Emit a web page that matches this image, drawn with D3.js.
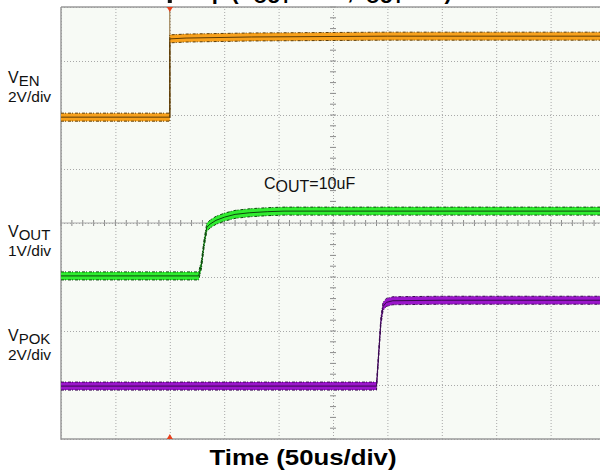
<!DOCTYPE html>
<html>
<head>
<meta charset="utf-8">
<script src="https://cdn.jsdelivr.net/npm/d3@7"></script>
<style>
  body { margin: 0; background: #fff; }
  svg { display: block; font-family: "Liberation Sans", Arial, sans-serif; }
</style>
</head>
<body>
<svg id="chart" width="600" height="475"></svg>
<script>
// time axis in divisions (50us/div), voltages in volts
const venT = [0, 2.0, 2.0, 2.3, 3.5, 6, 10];
const venV = [0, 0, 2.9, 2.93, 2.97, 3.0, 3.0];

const voutT = [0, 2.53, 2.58, 2.63, 2.68, 2.74, 2.85, 3.01, 3.2, 3.47, 3.8, 4.1, 6, 10];
const voutV = [0, 0, 0.2, 0.6, 0.9, 0.96, 1.03, 1.09, 1.14, 1.17, 1.19, 1.2, 1.2, 1.2];

const vpokT = [0, 5.8, 5.84, 5.88, 5.92, 5.98, 6.1, 7, 10];
const vpokV = [0, 0, 1.2, 2.4, 2.95, 3.1, 3.16, 3.18, 3.18];

const channels = [
  { name: "EN", scale: "2V/div", vdiv: 2, ground: 5.96, t: venT, v: venV, fill: "#f8a11c", edge: "#5e3c05" },
  { name: "OUT", scale: "1V/div", vdiv: 1, ground: 3.02, t: voutT, v: voutV, fill: "#30ec30", edge: "#0c470c" },
  { name: "POK", scale: "2V/div", vdiv: 2, ground: 0.98, t: vpokT, v: vpokV, fill: "#9b16cb", edge: "#3a0852" }
];

const svg = d3.select("#chart");
const plotL = 61, plotR = 605, plotT = 7, plotB = 439;

const x = d3.scaleLinear().domain([0, 10]).range([plotL, plotR]);
const y = d3.scaleLinear().domain([0, 8]).range([plotB, plotT]);

// top title, mostly cut off by the frame
svg.append("text")
    .attr("x", 300).attr("y", -1)
    .attr("text-anchor", "middle")
    .style("font-size", "22px").style("font-weight", "bold")
    .html('Startup (V<tspan dy="4" font-size="18">OUT</tspan><tspan dy="-4">=1.2V, I</tspan><tspan dy="4" font-size="18">OUT</tspan><tspan dy="-4">=0A)</tspan>');

svg.append("rect")
    .attr("x", plotL).attr("y", plotT)
    .attr("width", plotR - plotL).attr("height", plotB - plotT)
    .attr("fill", "#f7faf5");

// grid
svg.append("g")
    .attr("transform", `translate(0,${plotB})`)
    .call(d3.axisBottom(x).ticks(10).tickSize(-(plotB - plotT)).tickFormat(""))
    .call(g => g.select(".domain").remove())
    .call(g => g.selectAll("line").attr("stroke", "#a8a8a8").attr("stroke-dasharray", "1,2"));

svg.append("g")
    .attr("transform", `translate(${plotL},0)`)
    .call(d3.axisLeft(y).ticks(8).tickSize(-(plotR - plotL)).tickFormat(""))
    .call(g => g.select(".domain").remove())
    .call(g => g.selectAll("line").attr("stroke", "#a8a8a8").attr("stroke-dasharray", "1,2"));

// minor ticks on the centre lines
const minorX = d3.range(0, 10.01, 0.2);
const minorY = d3.range(0, 8.01, 0.2);
svg.append("g").selectAll("line").data(minorX).join("line")
    .attr("x1", d => x(d)).attr("x2", d => x(d))
    .attr("y1", y(4) - 3).attr("y2", y(4) + 3)
    .attr("stroke", "#8a8a8a");
svg.append("line")
    .attr("x1", plotL).attr("x2", plotR).attr("y1", y(4)).attr("y2", y(4))
    .attr("stroke", "#a8a8a8");
svg.append("g").selectAll("line").data(minorY).join("line")
    .attr("x1", x(5) - 3).attr("x2", x(5) + 3)
    .attr("y1", d => y(d)).attr("y2", d => y(d))
    .attr("stroke", "#8a8a8a");

// frame
svg.append("path")
    .attr("d", `M${plotL},${plotT}H${plotR}M${plotL},${plotT}V${plotB}H${plotR}`)
    .attr("fill", "none").attr("stroke", "#9a9a9a").attr("stroke-width", 1.5);

// trigger cursor
svg.append("line")
    .attr("x1", x(2)).attr("x2", x(2))
    .attr("y1", plotT).attr("y2", y(channels[0].ground))
    .attr("stroke", "#8c6a35").attr("stroke-width", 1);

// traces
const half = 4;
channels.forEach(ch => {
  const pts = ch.t.map((t, i) => [t, ch.ground + ch.v[i] / ch.vdiv]);
  const g = svg.append("g");
  g.append("path")
      .datum(pts)
      .attr("d", d3.area().x(d => x(d[0])).y0(d => y(d[1]) + half).y1(d => y(d[1]) - half))
      .attr("fill", ch.fill);
  [-half, half].forEach(off => {
    g.append("path")
        .datum(pts)
        .attr("d", d3.line().x(d => x(d[0])).y(d => y(d[1]) + off))
        .attr("fill", "none").attr("stroke", ch.edge)
        .attr("stroke-width", 1).attr("stroke-dasharray", "3,1,1,2");
  });
  g.append("path")
      .datum(pts)
      .attr("d", d3.line().x(d => x(d[0])).y(d => y(d[1])))
      .attr("fill", "none").attr("stroke", ch.edge).attr("stroke-width", 1);
});

// trigger markers
svg.append("path")
    .attr("d", `M${x(2) - 3},${plotT}L${x(2) + 3},${plotT}L${x(2)},${plotT + 5}Z`)
    .attr("fill", "#e8401c");
svg.append("rect")
    .attr("x", x(2) - 2).attr("y", 0).attr("width", 4).attr("height", 3)
    .attr("fill", "#111");
svg.append("path")
    .attr("d", `M${x(2) - 3},${plotB}L${x(2) + 3},${plotB}L${x(2)},${plotB - 5}Z`)
    .attr("fill", "#e8401c");

// channel labels
const labelY = [83, 237, 341];
channels.forEach((ch, i) => {
  const t = svg.append("text")
      .attr("x", 8).attr("y", labelY[i])
      .style("font-size", "16px").attr("fill", "#111");
  t.append("tspan").text("V");
  t.append("tspan").attr("dy", 3).style("font-size", "15px").text(ch.name);
  svg.append("text")
      .attr("x", 8).attr("y", labelY[i] + 19)
      .style("font-size", "15.5px").attr("fill", "#111")
      .text(ch.scale);
});

svg.append("text")
    .attr("x", 264).attr("y", 189)
    .style("font-size", "16px").attr("fill", "#111")
    .html('C<tspan dy="3">OUT</tspan><tspan dy="-3">=10uF</tspan>');

svg.append("text")
    .attr("x", 303).attr("y", 465)
    .attr("text-anchor", "middle")
    .style("font-size", "22px").style("font-weight", "bold")
    .attr("textLength", 187).attr("lengthAdjust", "spacingAndGlyphs")
    .text("Time (50us/div)");
</script>
</body>
</html>
